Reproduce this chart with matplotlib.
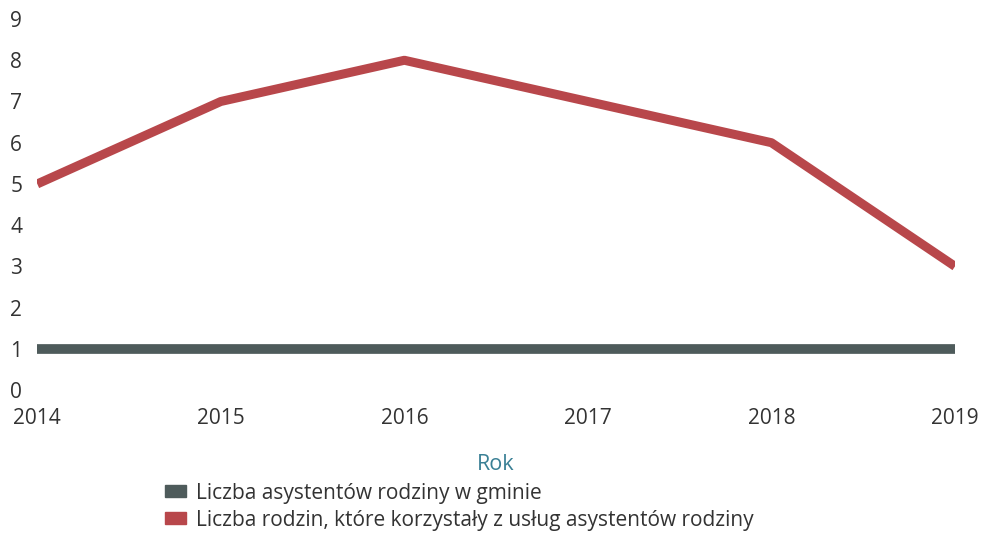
import matplotlib
matplotlib.use("Agg")
import matplotlib.pyplot as plt
from matplotlib.patches import Patch

# data
years = [2014, 2015, 2016, 2017, 2018, 2019]
asystenci = [1, 1, 1, 1, 1, 1]
rodziny = [5, 7, 8, 7, 6, 3]
yticks = list(range(0, 10))

col_gray = "#4e5b5b"
col_red = "#b8474b"
col_text = "#333333"

plt.rcParams["font.family"] = ["Open Sans", "DejaVu Sans"]

fig = plt.figure(figsize=(9.81, 5.44), dpi=100)
ax = fig.add_axes([0.038, 0.283, 0.9355, 0.682])

ax.plot(years, asystenci, color=col_gray, linewidth=7, solid_capstyle="butt")
ax.plot(years, rodziny, color=col_red, linewidth=6.5, solid_capstyle="butt", solid_joinstyle="round")

ax.set_xlim(years[0], years[-1])
ax.set_ylim(0, 9)
ax.set_xticks(years)
ax.set_yticks(yticks)
for s in ax.spines.values():
    s.set_visible(False)
ax.tick_params(axis="both", length=0, labelsize=15, labelcolor=col_text)
ax.tick_params(axis="x", pad=13)
for lbl in ax.get_yticklabels():
    lbl.set_horizontalalignment("left")
ax.yaxis.set_tick_params(pad=19.5)

ax.set_xlabel("Rok", color="#3a8095", fontsize=15.5, labelpad=18)

handles = [Patch(color=col_gray), Patch(color=col_red)]
labels = ["Liczba asystentów rodziny w gminie",
          "Liczba rodzin, które korzystały z usług asystentów rodziny"]
fig.legend(handles, labels, loc="upper left", bbox_to_anchor=(0.168, 0.113),
           frameon=False, fontsize=15, labelcolor=col_text,
           handlelength=1.0, handleheight=0.5, handletextpad=0.5,
           labelspacing=0.3, borderaxespad=0, borderpad=0)

fig.savefig("out.png", dpi=100)
